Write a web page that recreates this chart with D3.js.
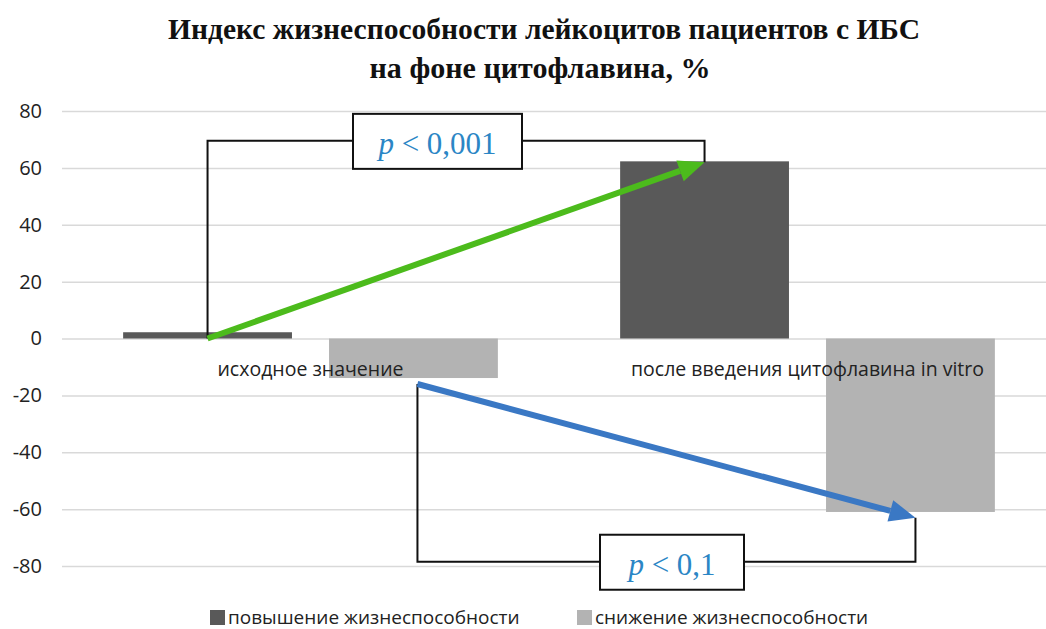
<!DOCTYPE html>
<html>
<head>
<meta charset="utf-8">
<script src="https://cdn.jsdelivr.net/npm/d3@7"></script>
<style>
  body { margin: 0; background: #fff; }
  svg { display: block; }
</style>
</head>
<body>
<svg id="chart"></svg>
<script>
const categories = ["исходное значение", "после введения цитофлавина in vitro"];
const seriesNames = ["повышение жизнеспособности", "снижение жизнеспособности"];
const increaseValues = [2.2, 62.3];
const decreaseValues = [-13.9, -61];
const yTicks = [-80, -60, -40, -20, 0, 20, 40, 60, 80];
const pLabels = ["0,001", "0,1"];

const W = 1046, H = 629;
const svg = d3.select('#chart').attr('width', W).attr('height', H);
const colors = d3.scaleOrdinal().domain(seriesNames).range(['#595959', '#b3b3b3']);

const y = d3.scaleLinear().domain([-80, 80]).range([566, 111]);
const x0 = d3.scaleBand().domain(categories).range([62, 1056]);
const bw = x0.bandwidth();
const x1 = d3.scaleBand().domain(seriesNames).range([bw * 0.123, bw * 0.877]).paddingInner(0.18);

// title
const title = svg.append('g').attr('font-family', '"Liberation Serif", "Times New Roman", serif')
  .attr('font-weight', 'bold').attr('font-size', 29).attr('text-anchor', 'middle').attr('fill', '#111');
title.append('text').attr('x', 544).attr('y', 39).attr('textLength', 752).attr('lengthAdjust', 'spacingAndGlyphs')
  .text('Индекс жизнеспособности лейкоцитов пациентов с ИБС');
title.append('text').attr('x', 540).attr('y', 78).attr('textLength', 341).attr('lengthAdjust', 'spacingAndGlyphs')
  .text('на фоне цитофлавина, %');

// grid + y axis
const yAxis = d3.axisLeft(y).tickValues(yTicks).tickSize(-(W - 62)).tickFormat(d => String(d));
const ya = svg.append('g').attr('transform', 'translate(62,0)').call(yAxis);
ya.select('.domain').remove();
ya.selectAll('.tick line').attr('stroke', '#d9d9d9').attr('stroke-width', 1.5);
ya.selectAll('.tick text').attr('font-family', '"Open Sans", sans-serif').attr('font-size', 20)
  .attr('fill', '#222').attr('x', -20);

// bars
const rows = categories.map((c, i) => ({ cat: c, vals: [increaseValues[i], decreaseValues[i]] }));
const groups = svg.append('g').selectAll('g').data(rows).enter().append('g')
  .attr('transform', d => `translate(${x0(d.cat)},0)`);
groups.selectAll('rect').data(d => d.vals.map((v, j) => ({ s: seriesNames[j], v }))).enter().append('rect')
  .attr('x', d => x1(d.s))
  .attr('width', x1.bandwidth())
  .attr('y', d => y(Math.max(0, d.v)))
  .attr('height', d => Math.abs(y(d.v) - y(0)))
  .attr('fill', d => colors(d.s));

// category labels
svg.append('g').selectAll('text').data(categories).enter().append('text')
  .attr('x', d => x0(d) + bw / 2).attr('y', 376)
  .attr('text-anchor', 'middle').attr('font-family', '"Open Sans", sans-serif').attr('font-size', 19.5)
  .attr('fill', '#222').text(d => d);

// brackets with p-values
const cx = (ci, si) => x0(categories[ci]) + x1(seriesNames[si]) + x1.bandwidth() / 2;
const brackets = [
  { x1: cx(0, 0), y1: y(0), x2: cx(1, 0), y2: y(62), level: y(69.5), bx: 353, bwid: 169, p: pLabels[0] },
  { x1: cx(0, 1) + 4, y1: y(-16), x2: cx(1, 1) + 5, y2: y(-63), level: y(-78.5), bx: 600, bwid: 144, p: pLabels[1] }
];
const br = svg.append('g');
brackets.forEach(b => {
  br.append('path')
    .attr('d', `M${b.x1},${b.y1}V${b.level}H${b.x2}V${b.y2}`)
    .attr('fill', 'none').attr('stroke', '#111').attr('stroke-width', 2);
  br.append('rect').attr('x', b.bx).attr('y', b.level - 27).attr('width', b.bwid).attr('height', 55)
    .attr('fill', '#fff').attr('stroke', '#111').attr('stroke-width', 2);
  const t = br.append('text').attr('x', b.bx + b.bwid / 2).attr('y', b.level + 13)
    .attr('text-anchor', 'middle').attr('font-family', '"Liberation Serif", "Times New Roman", serif')
    .attr('font-size', 31).attr('fill', '#2b86c5');
  t.append('tspan').attr('font-style', 'italic').text('p');
  t.append('tspan').text(' < ' + b.p);
});

// arrows
const arrows = [
  { x1: cx(0, 0), y1: y(0), x2: cx(1, 0), y2: y(62), color: '#4cbb1c' },
  { x1: cx(0, 1) + 4, y1: y(-16), x2: cx(1, 1) + 5, y2: y(-63), color: '#3a78c4' }
];
arrows.forEach(a => {
  const ang = Math.atan2(a.y2 - a.y1, a.x2 - a.x1);
  const L = 26, Wd = 11;
  const bx = a.x2 - L * Math.cos(ang), by = a.y2 - L * Math.sin(ang);
  svg.append('line').attr('x1', a.x1).attr('y1', a.y1).attr('x2', bx).attr('y2', by)
    .attr('stroke', a.color).attr('stroke-width', 6);
  const px = -Math.sin(ang), py = Math.cos(ang);
  svg.append('path')
    .attr('d', `M${a.x2},${a.y2}L${bx + px * Wd},${by + py * Wd}L${bx - px * Wd},${by - py * Wd}Z`)
    .attr('fill', a.color);
});

// legend
const legend = svg.append('g').selectAll('g').data(seriesNames).enter().append('g')
  .attr('transform', (d, i) => `translate(${[210, 577][i]},610)`);
legend.append('rect').attr('width', 15).attr('height', 15).attr('fill', d => colors(d));
legend.append('text').attr('x', 18).attr('y', 14).attr('font-family', '"Open Sans", sans-serif')
  .attr('font-size', 19).attr('fill', '#222').text(d => d);
</script>
</body>
</html>
